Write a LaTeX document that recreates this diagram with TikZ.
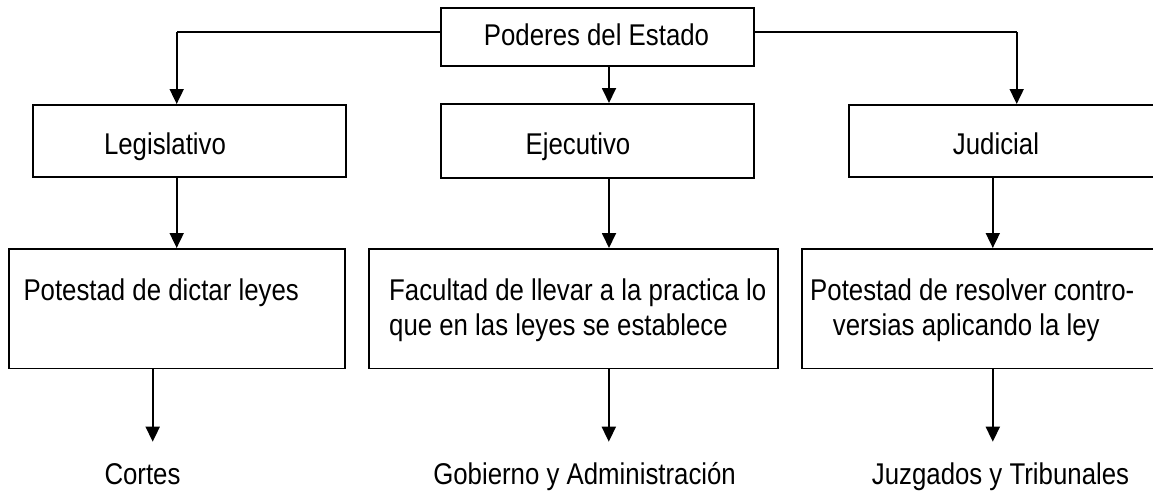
\documentclass[tikz,border=0pt]{standalone}
\usepackage{fontspec}
\setmainfont{Liberation Sans}[FakeStretch=0.86]
\usetikzlibrary{arrows.meta}
\begin{document}
\begin{tikzpicture}[x=1pt,y=-1pt,
  box/.style={draw, line width=1.8pt, rectangle, inner sep=0pt, anchor=north west},
  lbl/.style={inner sep=0pt, anchor=base, font=\fontsize{30}{35}\selectfont},
  lbll/.style={inner sep=0pt, anchor=base west, font=\fontsize{30}{35}\selectfont},
  arr/.style={line width=1.8pt, -{Triangle[length=15pt,width=14pt]}},
  ln/.style={line width=1.8pt}]
\useasboundingbox (0,0) rectangle (1153,490);
\clip (0,0) rectangle (1153,490);
% column coordinates
\coordinate (cL) at (176.7,0);
\coordinate (cM) at (609,0);
\coordinate (cR) at (1016.7,0);
\coordinate (dL) at (152.7,0);
\coordinate (dM) at (608.8,0);
\coordinate (dR) at (992.8,0);
\coordinate (hy) at (0,32.3);
% top box
\node[box, minimum width=313pt, minimum height=58pt] (top) at (440,7) {};
\node[lbl] (toptxt) at (596.5,45) {Poderes del Estado};
% second row
\node[box, minimum width=313pt, minimum height=72pt] (leg) at (32,104) {};
\node[lbl] (legtxt) at (165,154) {Legislativo};
\node[box, minimum width=313pt, minimum height=74pt] (eje) at (440,103) {};
\node[lbl] (ejetxt) at (578,154) {Ejecutivo};
\node[box, minimum width=330pt, minimum height=72pt] (jud) at (848,104) {};
\node[lbl] (judtxt) at (996,154) {Judicial};
% third row
\node[box, minimum width=336pt, minimum height=119.5pt] (pa) at (8.3,248) {};
\node[lbll] (patxt) at (23.3,300.5) {Potestad de dictar leyes};
\node[box, minimum width=408.4pt, minimum height=119.5pt] (pb) at (368.3,248) {};
\node[lbll] (pbtxt1) at (389,300.5) {Facultad de llevar a la practica lo};
\node[lbll] (pbtxt2) at (389,335.5) {que en las leyes se establece};
\node[box, minimum width=380pt, minimum height=119.5pt] (pc) at (800.7,248) {};
\node[lbll] (pctxt1) at (810,300.5) {Potestad de resolver contro-};
\node[lbll] (pctxt2) at (832.7,335.5) {versias aplicando la ley};
% bottom texts
\node[lbl] (cortes) at (142.5,484) {Cortes};
\node[lbl] (gob) at (584.6,484) {Gobierno y Administración};
\node[lbl] (juz) at (1000.5,484) {Juzgados y Tribunales};
\coordinate (endy) at (0,441.7);
% connectors
\draw[ln] (top.west |- hy) -- (cL |- hy);
\draw[arr] (cL |- hy) -- (leg.north -| cL);
\draw[ln] (top.east |- hy) -- (cR |- hy);
\draw[arr] (cR |- hy) -- (jud.north -| cR);
\draw[arr] (top.south -| cM) -- (eje.north -| cM);
\draw[arr] (leg.south -| cL) -- (pa.north -| cL);
\draw[arr] (eje.south -| cM) -- (pb.north -| cM);
\draw[arr] (jud.south -| dR) -- (pc.north -| dR);
\draw[arr] (pa.south -| dL) -- (dL |- endy);
\draw[arr] (pb.south -| dM) -- (dM |- endy);
\draw[arr] (pc.south -| dR) -- (dR |- endy);
\end{tikzpicture}
\end{document}
